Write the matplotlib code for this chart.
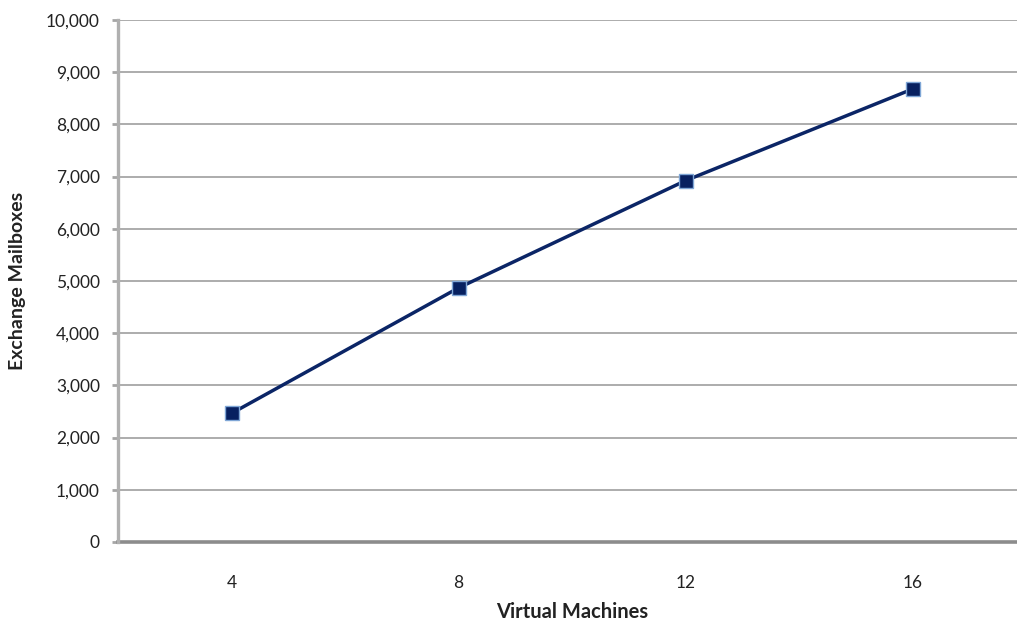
import matplotlib
matplotlib.use("Agg")
import matplotlib.pyplot as plt
from matplotlib.ticker import FuncFormatter

categories = ["4", "8", "12", "16"]
mailboxes = [2465, 4870, 6925, 8680]
y_ticks = list(range(0, 10001, 1000))

plt.rcParams['font.family'] = ['Lato', 'DejaVu Sans']

W, H = 1017, 622
fig = plt.figure(figsize=(W / 100, H / 100), dpi=100)
left, right, top, bottom = 118, 1026.5, 20, 542
ax = fig.add_axes([left / W, 1 - bottom / H, (right - left) / W, (bottom - top) / H])

x = list(range(len(categories)))
ax.plot(x, mailboxes, color="#0B2566", lw=2.5, zorder=3,
        marker="s", markersize=10, markerfacecolor="#072060",
        markeredgecolor="#7FA6D6", markeredgewidth=1.0, clip_on=False)

ax.set_xlim(-0.5, len(categories) - 0.5)
ax.set_ylim(0, 10000)
ax.set_xticks(x)
ax.set_xticklabels(categories)
ax.set_yticks(y_ticks)
ax.yaxis.set_major_formatter(FuncFormatter(lambda v, p: f"{int(v):,}"))

ax.grid(axis="y", color="#A6A6A6", lw=1.3, zorder=0)
ax.set_axisbelow(True)

for s in ["top", "right"]:
    ax.spines[s].set_visible(False)
ax.spines["left"].set_color("#B0B0B0")
ax.spines["left"].set_linewidth(2.4)
ax.spines["bottom"].set_color("#8C8C8C")
ax.spines["bottom"].set_linewidth(2.6)
ax.spines["bottom"].set_zorder(2)

ax.tick_params(axis="y", direction="out", length=4, width=2, color="#A6A6A6",
               pad=9, labelsize=12.5, labelcolor="#222222")
ax.tick_params(axis="x", length=0, pad=24, labelsize=12.5, labelcolor="#222222")

ax.set_xlabel("Virtual Machines", fontsize=14.5, fontweight="bold", color="#222222")
ax.set_ylabel("Exchange Mailboxes", fontsize=14, fontweight="bold", color="#222222")
ax.xaxis.set_label_coords(0.5, (bottom - 612) / (bottom - top))
ax.xaxis.label.set_va("center")
ax.yaxis.set_label_coords((18 - left) / (right - left), 0.5)
ax.yaxis.label.set_va("center")

fig.savefig("out.png", dpi=100)
